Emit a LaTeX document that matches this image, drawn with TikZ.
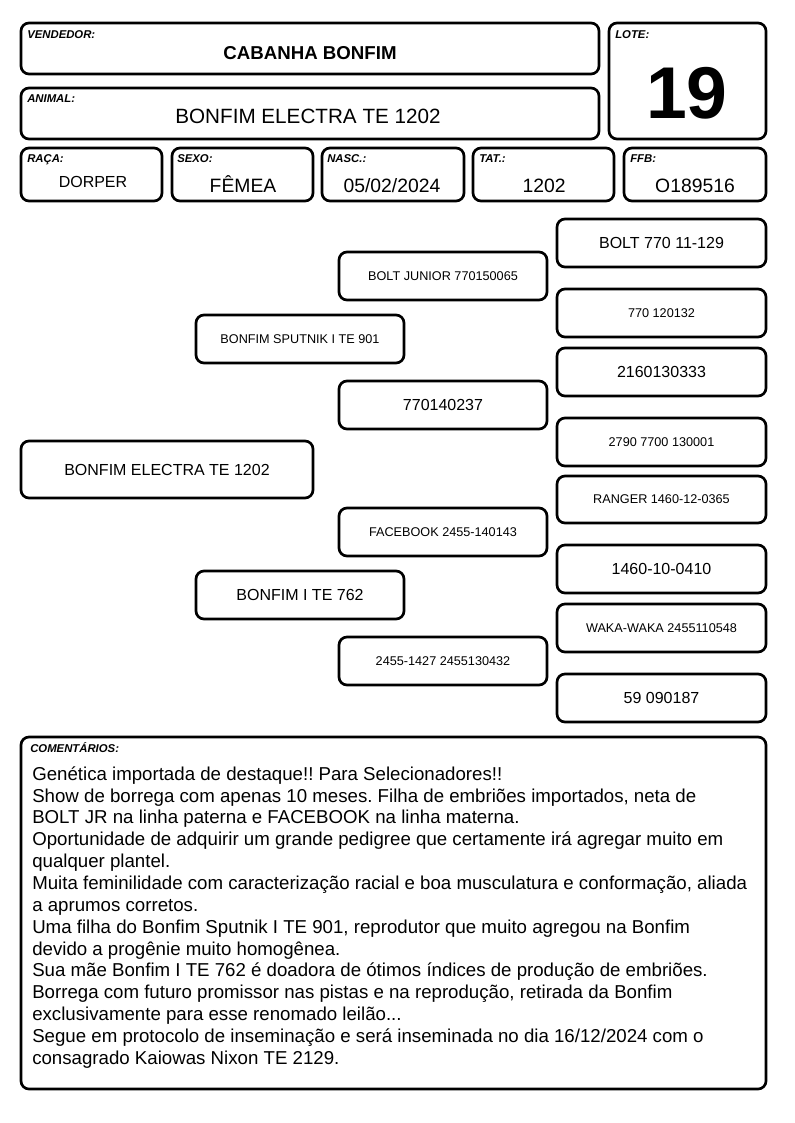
\documentclass[tikz,border=0pt]{standalone}
\usepackage{fontspec}
\setmainfont{Liberation Sans}
\frenchspacing
\newcommand{\bx}[7]{\node[box,#6,minimum width={(#4-#2)*0.75pt},minimum height={(#5-#3)*0.75pt}] (#1) at ({(#2+#4)/2},{(#3+#5)/2}) {#7};}
\begin{document}
\begin{tikzpicture}[x=0.75pt,y=-0.75pt,
  box/.style={draw=black, line width=2pt, rounded corners=6pt, inner sep=0pt, fill=white},
  lab/.style={anchor=base west, inner sep=0pt, font=\fontsize{8.5}{9}\selectfont\bfseries\itshape},
  val/.style={anchor=base, inner sep=0pt},
  big/.style={font=\fontsize{12}{14}\selectfont},
  small/.style={font=\fontsize{9.5}{11}\selectfont}]
\useasboundingbox[fill=white] (0,0) rectangle (794,1123);
% header
\bx{vend}{21}{23}{599}{74}{}{}
\bx{anim}{21}{88}{599}{139}{}{}
\bx{lote}{609}{23}{766}{139}{}{}
\node[lab] (lvend) at (27,39) {VENDEDOR:};
\node[lab] (lanim) at (27,103) {ANIMAL:};
\node[lab] (llote) at (615,39) {LOTE:};
\node[val,font=\fontsize{14}{16}\selectfont\bfseries] (tvend) at (310,60) {CABANHA BONFIM};
\node[val,font=\fontsize{15.5}{18}\selectfont] (tanim) at (308,123.5) {BONFIM ELECTRA TE 1202};
\node[val,font=\fontsize{55}{60}\selectfont\bfseries] (tlote) at (687,119) {19};
% row
\bx{raca}{21}{148}{162}{201}{}{}
\bx{sexo}{172}{148}{313}{201}{}{}
\bx{nasc}{322}{148}{464}{201}{}{}
\bx{tat}{473}{148}{614}{201}{}{}
\bx{ffb}{624}{148}{766}{201}{}{}
\node[lab] (lraca) at (27,163) {RAÇA:};
\node[lab] (lsexo) at (177,163) {SEXO:};
\node[lab] (lnasc) at (327,163) {NASC.:};
\node[lab] (ltat) at (479,163) {TAT.:};
\node[lab] (lffb) at (630,163) {FFB:};
\node[val,font=\fontsize{12}{14}\selectfont] (traca) at (93,188) {DORPER};
\node[val,font=\fontsize{14.5}{17}\selectfont] (tsexo) at (243,193) {FÊMEA};
\node[val,font=\fontsize{14.5}{17}\selectfont] (tnasc) at (392,193) {05/02/2024};
\node[val,font=\fontsize{14.5}{17}\selectfont] (ttat) at (544,193) {1202};
\node[val,font=\fontsize{14.5}{17}\selectfont] (tffb) at (695,193) {O189516};
% pedigree
\bx{p0}{21}{441}{313}{498}{big}{BONFIM ELECTRA TE 1202}
\bx{p1}{196}{315}{404}{363}{small}{BONFIM SPUTNIK I TE 901}
\bx{p2}{196}{571}{404}{619}{big}{BONFIM I TE 762}
\bx{p11}{339}{252}{547}{300}{small}{BOLT JUNIOR 770150065}
\bx{p12}{339}{381}{547}{429}{big}{770140237}
\bx{p21}{339}{508}{547}{556}{small}{FACEBOOK 2455-140143}
\bx{p22}{339}{637}{547}{685}{small}{2455-1427 2455130432}
\bx{p111}{557}{219}{766}{267}{big}{BOLT 770 11-129}
\bx{p112}{557}{289}{766}{337}{small}{770 120132}
\bx{p121}{557}{348}{766}{396}{big}{2160130333}
\bx{p122}{557}{418}{766}{466}{small}{2790 7700 130001}
\bx{p211}{557}{476}{766}{523}{small}{RANGER 1460-12-0365}
\bx{p212}{557}{545}{766}{593}{big}{1460-10-0410}
\bx{p221}{557}{604}{766}{652}{small}{WAKA-WAKA 2455110548}
\bx{p222}{557}{674}{766}{722}{big}{59 090187}
% comments
\bx{com}{21}{737}{766}{1089}{}{}
\node[lab] (lcom) at (30,752) {COMENTÁRIOS:};
\node[anchor=north west, inner sep=0pt, align=left, font=\fontsize{14}{16.39}\selectfont\frenchspacing] (tcom) at (32,764.7) {\strut Genética importada de destaque!! Para Selecionadores!!\\
Show de borrega com apenas 10 meses. Filha de embriões importados, neta de\\
BOLT JR na linha paterna e FACEBOOK na linha materna.\\
Oportunidade de adquirir um grande pedigree que certamente irá agregar muito em\\
qualquer plantel.\\
Muita feminilidade com caracterização racial e boa musculatura e conformação, aliada\\
a aprumos corretos.\\
Uma filha do Bonfim Sputnik I TE 901, reprodutor que muito agregou na Bonfim\\
devido a progênie muito homogênea.\\
Sua mãe Bonfim I TE 762 é doadora de ótimos índices de produção de embriões.\\
Borrega com futuro promissor nas pistas e na reprodução, retirada da Bonfim\\
exclusivamente para esse renomado leilão...\\
Segue em protocolo de inseminação e será inseminada no dia 16/12/2024 com o\\
consagrado Kaiowas Nixon TE 2129.};
\end{tikzpicture}
\end{document}
